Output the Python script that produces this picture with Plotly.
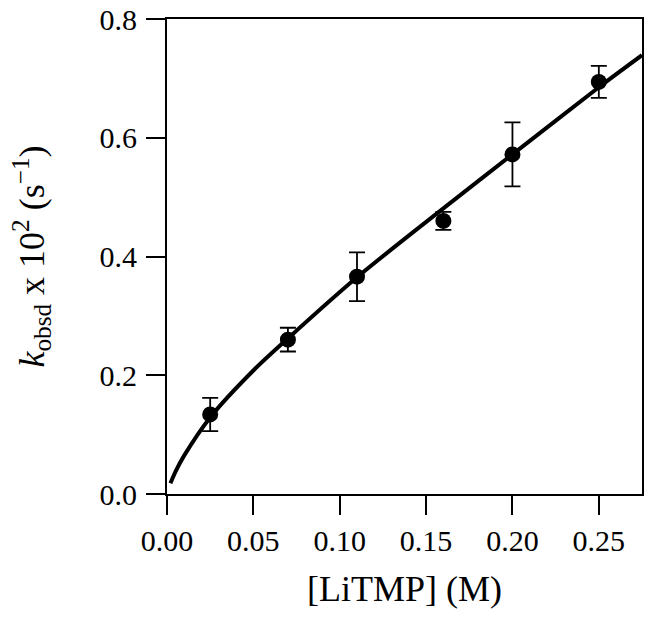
import plotly.graph_objects as go

# data points
conc = [0.025, 0.07, 0.11, 0.16, 0.20, 0.25]
kobs = [0.134, 0.260, 0.366, 0.460, 0.572, 0.694]
kerr = [0.028, 0.020, 0.041, 0.015, 0.054, 0.027]

# fitted curve
fit_x = [0.002, 0.005, 0.01, 0.025, 0.05, 0.07, 0.11, 0.16, 0.20, 0.25, 0.275]
fit_y = [0.018, 0.038, 0.065, 0.129, 0.208, 0.262, 0.365, 0.481, 0.572, 0.685, 0.739]

x_ticks = [0.00, 0.05, 0.10, 0.15, 0.20, 0.25]
y_ticks = [0.0, 0.2, 0.4, 0.6, 0.8]

FONT = "Liberation Serif"

fig = go.Figure()
fig.add_trace(go.Scatter(x=fit_x, y=fit_y, mode="lines",
                         line=dict(color="black", width=4, shape="spline", smoothing=0.8),
                         showlegend=False, hoverinfo="skip", cliponaxis=True))
fig.add_trace(go.Scatter(x=conc, y=kobs, mode="markers",
                         marker=dict(color="black", size=16),
                         error_y=dict(type="data", array=kerr, visible=True,
                                      color="black", thickness=1.8, width=8),
                         showlegend=False))

fig.update_layout(
    width=650, height=617,
    margin=dict(l=167, r=8, t=19, b=123),
    paper_bgcolor="white", plot_bgcolor="white",
    font=dict(family=FONT, size=30, color="black"),
    xaxis=dict(range=[0, 0.275], tickvals=x_ticks, tickformat=".2f",
               ticks="outside", ticklen=19, tickwidth=2, tickcolor="black",
               showline=True, linecolor="black", linewidth=2, mirror=True,
               showgrid=False, zeroline=False, automargin=False,
               ticklabeloverflow="allow",
               title=dict(text="[LiTMP] (M)", standoff=20)),
    yaxis=dict(range=[0, 0.8], tickvals=y_ticks, tickformat=".1f",
               ticks="outside", ticklen=19, tickwidth=2, tickcolor="black",
               showline=True, linecolor="black", linewidth=2, mirror=True,
               showgrid=False, zeroline=False, automargin=False,
               ticklabelstandoff=3, ticklabeloverflow="allow",
               title=dict(text="<i>k</i><sub>obsd</sub> x 10<sup>2</sup> (s<sup>−1</sup>)",
                          standoff=44)),
)

fig.write_html("out.html", config={"displayModeBar": False},
               post_script="document.body.style.margin='0';")
